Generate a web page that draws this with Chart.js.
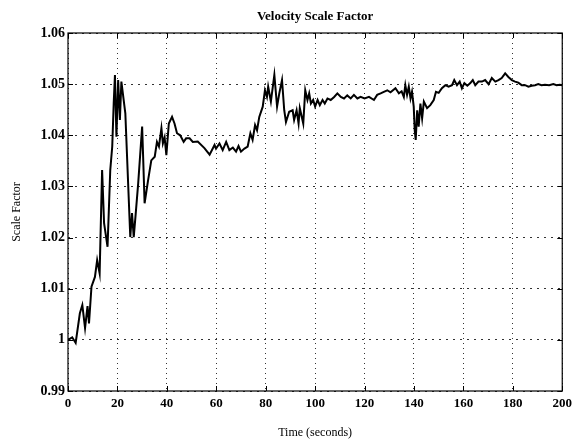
<!DOCTYPE html>
<html>
<head>
<meta charset="utf-8">
<script src="https://cdn.jsdelivr.net/npm/chart.js@4/dist/chart.umd.min.js"></script>
<style>
html,body{margin:0;padding:0;background:#fff;}
#wrap{width:577px;height:443px;}
</style>
</head>
<body>
<div id="wrap"><canvas id="c" width="577" height="443"></canvas></div>
<script>
const times = [0,1.7,3.1,4.8,5.8,6.9,7.9,8.5,9.5,10.9,11.8,12.8,13.8,14.6,16.0,17.1,17.9,18.5,19.0,19.6,20.3,21.0,21.6,23.2,25.2,25.9,26.6,27.3,28.4,30.0,30.4,31.0,32.4,33.7,35.1,36.0,36.8,37.8,38.4,39.1,39.8,40.8,42.1,43.1,44.1,45.4,46.8,47.8,49.2,50.5,52.5,55.2,57.3,59.3,59.9,61.3,62.6,64.0,65.3,66.7,68.0,69.0,70.0,71.4,72.7,73.8,74.7,75.7,76.5,77.4,78.8,79.7,80.5,81.0,82.1,83.5,84.6,85.5,86.6,87.5,88.2,89.5,90.9,91.5,92.5,93.3,93.8,95.2,96.0,96.9,97.6,98.3,99.2,100.0,101.0,101.9,103.0,103.9,105.0,106.3,107.7,109.0,110.4,111.7,113.0,114.4,115.7,117.1,118.4,120.0,121.8,123.8,125.1,126.5,127.8,129.2,130.5,132.5,133.9,135.0,135.9,136.5,137.2,137.9,138.6,139.2,139.9,140.3,140.7,141.3,141.9,142.6,143.3,144.0,145.3,146.6,148.0,148.9,150.0,151.3,152.7,154.0,155.4,156.3,157.4,158.5,159.4,160.4,161.6,162.8,163.8,164.8,166.1,167.5,168.8,170.2,171.5,172.9,174.2,175.5,176.9,178.2,179.6,180.9,182.2,183.6,185.0,186.3,187.6,189.0,190.3,191.6,193.0,194.7,196.4,197.7,199.0,200.0];
const scaleFactor = [1.0000,1.0005,0.9994,1.0052,1.0068,1.0023,1.0066,1.0032,1.0104,1.0123,1.0156,1.0130,1.0332,1.0228,1.0182,1.0332,1.0378,1.0463,1.0518,1.0397,1.0508,1.0430,1.0505,1.0443,1.0201,1.0248,1.0201,1.0241,1.0306,1.0417,1.0358,1.0267,1.0312,1.0351,1.0358,1.0387,1.0378,1.0414,1.0384,1.0396,1.0361,1.0423,1.0436,1.0423,1.0404,1.0400,1.0387,1.0394,1.0394,1.0387,1.0388,1.0375,1.0362,1.0381,1.0374,1.0384,1.0371,1.0387,1.0371,1.0376,1.0368,1.0379,1.0368,1.0374,1.0378,1.0404,1.0391,1.0420,1.0410,1.0436,1.0456,1.0488,1.0475,1.0495,1.0466,1.0518,1.0456,1.0482,1.0508,1.0449,1.0426,1.0446,1.0449,1.0430,1.0449,1.0423,1.0453,1.0423,1.0488,1.0469,1.0482,1.0462,1.0469,1.0456,1.0469,1.0459,1.0469,1.0462,1.0472,1.0469,1.0475,1.0482,1.0475,1.0472,1.0478,1.0472,1.0479,1.0472,1.0475,1.0472,1.0475,1.0469,1.0479,1.0482,1.0485,1.0488,1.0484,1.0492,1.0482,1.0486,1.0475,1.0498,1.0479,1.0495,1.0472,1.0485,1.0456,1.0410,1.0391,1.0449,1.0417,1.0462,1.0433,1.0466,1.0453,1.0459,1.0469,1.0485,1.0483,1.0492,1.0498,1.0495,1.0498,1.0508,1.0498,1.0505,1.0492,1.0502,1.0497,1.0502,1.0508,1.0498,1.0505,1.0505,1.0508,1.0500,1.0512,1.0505,1.0508,1.0512,1.0521,1.0514,1.0508,1.0505,1.0503,1.0498,1.0498,1.0495,1.0497,1.0498,1.0500,1.0498,1.0499,1.0498,1.0500,1.0498,1.0499,1.0498];
const xTicks = [0,20,40,60,80,100,120,140,160,180,200];
const yTicks = [0.99,1.00,1.01,1.02,1.03,1.04,1.05,1.06];
const titleText = 'Velocity Scale Factor';
const xTitle = 'Time (seconds)';
const yTitle = 'Scale Factor';

const points = times.map((t,i)=>({x:t,y:scaleFactor[i]}));
const FONT = "'Liberation Serif','Times New Roman',serif";

const boxPlugin = {
  id:'box',
  afterDraw(chart){
    const {ctx, chartArea:a, scales:{x,y}} = chart;
    ctx.save();
    ctx.strokeStyle='#000';
    ctx.lineWidth=1.2;
    ctx.setLineDash([]);
    ctx.strokeRect(a.left, a.top, a.right-a.left, a.bottom-a.top);
    ctx.lineWidth=1;
    ctx.beginPath();
    xTicks.forEach(v=>{
      const px=Math.round(x.getPixelForValue(v))+0.5;
      ctx.moveTo(px,a.bottom); ctx.lineTo(px,a.bottom-5);
      ctx.moveTo(px,a.top); ctx.lineTo(px,a.top+5);
    });
    yTicks.forEach(v=>{
      const py=Math.round(y.getPixelForValue(v))+0.5;
      ctx.moveTo(a.left,py); ctx.lineTo(a.left+5,py);
      ctx.moveTo(a.right,py); ctx.lineTo(a.right-5,py);
    });
    ctx.stroke();
    // title centred over the plot area
    ctx.fillStyle='#000';
    ctx.font="bold 13px "+FONT;
    ctx.textAlign='center';
    ctx.textBaseline='middle';
    ctx.fillText(titleText,(a.left+a.right)/2,a.top-16);
    ctx.restore();
  }
};

new Chart(document.getElementById('c'), {
  type:'line',
  data:{datasets:[{data:points,borderColor:'#000',borderWidth:2,pointRadius:0,tension:0,fill:false}]},
  options:{
    responsive:false,
    animation:false,
    devicePixelRatio:1,
    layout:{padding:{left:0,right:13,top:33,bottom:0}},
    plugins:{
      legend:{display:false},
      tooltip:{enabled:false},
      title:{display:false}
    },
    scales:{
      x:{
        type:'linear',min:0,max:200,
        afterBuildTicks(s){s.ticks=xTicks.map(v=>({value:v}));},
        afterFit(s){s.height=52;},
        grid:{color:'#333',lineWidth:1,drawTicks:false},
        border:{display:false,dash:[1,4]},
        ticks:{color:'#000',padding:5,maxRotation:0,font:{family:FONT,size:13,weight:'bold'},callback:v=>String(v)},
        title:{display:true,text:xTitle,color:'#000',font:{family:FONT,size:12},padding:{top:0,bottom:3}}
      },
      y:{
        type:'linear',min:0.99,max:1.06,
        afterBuildTicks(s){s.ticks=yTicks.map(v=>({value:v}));},
        afterFit(s){s.width=68;},
        grid:{color:'#333',lineWidth:1,drawTicks:false},
        border:{display:false,dash:[2,5]},
        ticks:{color:'#000',padding:3,font:{family:FONT,size:14,weight:'bold'},callback:v=>String(Number(v.toFixed(2)))},
        title:{display:true,text:yTitle,color:'#000',font:{family:FONT,size:12},padding:{top:10,bottom:0}}
      }
    }
  },
  plugins:[boxPlugin]
});
</script>
</body>
</html>
